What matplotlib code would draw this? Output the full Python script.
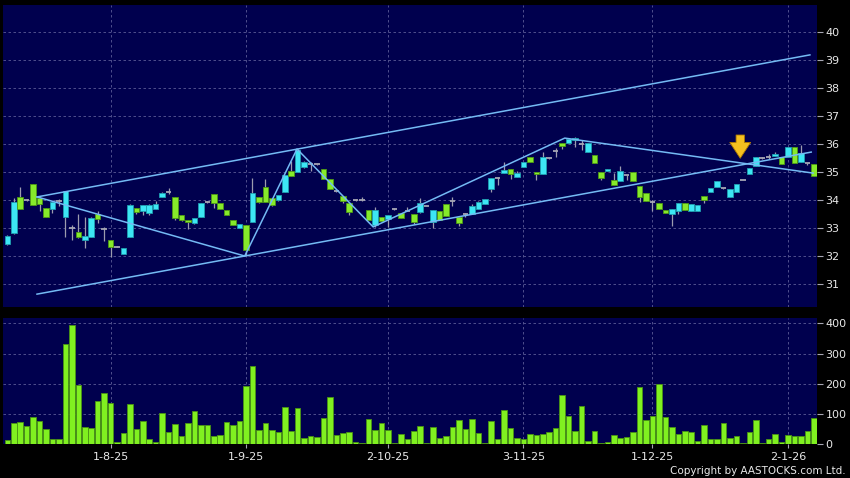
import numpy as np
import matplotlib
matplotlib.use('Agg')
import matplotlib.pyplot as plt

# --- Data (one entry per trading day) ---
open_ = [32.42, 32.81, 34.10, 34.00, 34.56, 34.08, 33.70, 33.68, 33.98, 33.40,
         32.99, 32.85, 32.58, 32.69, 33.49, 32.96, 32.57, 32.33, 32.06, 32.67,
         33.70, 33.61, 33.52, 33.69, 34.10, 34.30, 34.10, 33.45, 33.29, 33.17,
         33.38, 33.93, 34.20, 33.90, 33.65, 33.30, 32.99, 33.10, 33.20, 34.10,
         34.48, 34.08, 33.99, 34.27, 35.04, 35.01, 35.19, 35.27, 35.27, 35.10,
         34.74, 34.33, 34.15, 33.90, 34.00, 34.00, 33.64, 33.11, 33.40, 33.32,
         33.68, 33.52, 33.62, 33.49, 33.58, 33.79, 33.20, 33.62, 33.85, 33.96,
         33.40, 33.50, 33.50, 33.68, 33.85, 34.38, 34.80, 34.95, 35.10, 34.81,
         35.17, 35.52, 35.01, 34.92, 35.49, 35.75, 36.02, 36.02, 36.14, 35.99,
         35.73, 35.61, 35.01, 35.05, 34.71, 34.69, 34.89, 34.99, 34.50, 34.26,
         33.94, 33.90, 33.64, 33.49, 33.61, 33.88, 33.61, 33.61, 34.14, 34.30,
         34.48, 34.42, 34.12, 34.30, 34.71, 34.92, 35.23, 35.49, 35.55, 35.57,
         35.55, 35.52, 35.90, 35.37, 35.31, 35.27]
close = [32.71, 33.92, 33.68, 34.00, 33.82, 33.85, 33.40, 33.92, 33.98, 34.33,
         32.99, 32.69, 32.73, 33.35, 33.31, 32.96, 32.33, 32.33, 32.30, 33.82,
         33.56, 33.81, 33.82, 33.85, 34.26, 34.30, 33.35, 33.29, 33.22, 33.35,
         33.88, 33.93, 33.88, 33.67, 33.45, 33.10, 33.13, 32.21, 34.24, 33.93,
         33.94, 33.82, 34.18, 34.89, 34.87, 35.79, 35.37, 35.27, 35.27, 34.74,
         34.39, 34.33, 33.98, 33.58, 34.00, 34.00, 33.29, 33.64, 33.25, 33.46,
         33.68, 33.35, 33.62, 33.23, 33.90, 33.79, 33.64, 33.29, 33.44, 33.96,
         33.17, 33.50, 33.80, 33.94, 34.02, 34.77, 34.80, 35.07, 34.92, 34.98,
         35.35, 35.37, 34.92, 35.52, 35.49, 35.75, 35.94, 36.18, 36.23, 35.99,
         36.02, 35.31, 34.80, 35.10, 34.54, 35.04, 34.89, 34.69, 34.12, 33.98,
         33.94, 33.67, 33.52, 33.67, 33.90, 33.64, 33.86, 33.82, 34.00, 34.44,
         34.68, 34.42, 34.38, 34.56, 34.71, 35.15, 35.52, 35.49, 35.55, 35.63,
         35.29, 35.90, 35.31, 35.69, 35.31, 34.86]
high = [32.75, 34.06, 34.48, 34.05, 34.56, 34.10, 33.70, 33.95, 34.05, 34.33,
        33.10, 33.49, 33.40, 33.40, 33.61, 33.05, 32.57, 32.35, 32.30, 33.85,
        33.72, 33.82, 33.85, 33.98, 34.28, 34.42, 34.10, 33.45, 33.29, 33.35,
        33.88, 33.98, 34.20, 33.90, 33.65, 33.30, 33.13, 33.10, 34.77, 34.12,
        34.75, 34.08, 34.18, 34.90, 35.40, 35.82, 35.40, 35.35, 35.28, 35.10,
        34.74, 34.36, 34.15, 33.90, 34.02, 34.10, 33.64, 33.75, 33.40, 33.46,
        33.70, 33.55, 33.75, 33.49, 34.08, 33.80, 33.64, 33.62, 33.85, 34.10,
        33.40, 33.55, 33.85, 33.98, 34.05, 34.77, 34.82, 35.35, 35.12, 35.05,
        35.37, 35.55, 35.01, 35.70, 35.50, 35.85, 36.02, 36.18, 36.25, 36.15,
        36.02, 35.61, 35.01, 35.10, 34.98, 35.20, 34.90, 34.99, 34.50, 34.26,
        34.00, 33.90, 33.64, 33.67, 33.90, 33.88, 33.86, 33.82, 34.14, 34.44,
        34.68, 34.44, 34.40, 34.58, 34.72, 35.15, 35.55, 35.52, 35.65, 35.72,
        35.55, 35.90, 35.90, 35.98, 35.33, 35.27]
low = [32.40, 32.80, 33.68, 33.98, 33.82, 33.61, 33.40, 33.55, 33.80, 32.69,
       32.57, 32.65, 32.30, 32.69, 33.17, 32.55, 31.98, 32.31, 32.06, 32.67,
       33.50, 33.46, 33.45, 33.69, 34.10, 34.20, 33.30, 33.25, 32.95, 33.15,
       33.38, 33.88, 33.70, 33.67, 33.45, 33.10, 32.99, 32.04, 33.20, 33.90,
       33.94, 33.80, 33.95, 34.27, 34.87, 35.01, 35.15, 35.05, 35.26, 34.74,
       34.39, 34.30, 33.90, 33.45, 33.98, 33.98, 33.29, 33.05, 33.25, 33.05,
       33.66, 33.35, 33.60, 33.15, 33.55, 33.78, 33.00, 33.29, 33.44, 33.80,
       33.08, 33.40, 33.50, 33.68, 33.85, 34.30, 34.55, 34.95, 34.75, 34.81,
       35.17, 35.37, 34.72, 34.92, 35.48, 35.55, 35.82, 36.02, 35.90, 35.80,
       35.73, 35.31, 34.72, 35.05, 34.54, 34.69, 34.73, 34.69, 33.94, 33.98,
       33.62, 33.67, 33.52, 33.08, 33.50, 33.64, 33.61, 33.61, 33.90, 34.30,
       34.48, 34.40, 34.12, 34.30, 34.70, 34.92, 35.23, 35.45, 35.45, 35.57,
       35.29, 35.52, 35.31, 35.37, 35.25, 34.86]
volume = [14, 70, 73, 60, 91, 78, 51, 16, 16, 333,
          394, 196, 58, 52, 142, 168, 136, 7, 38, 132,
          50, 77, 18, 8, 104, 41, 67, 26, 71, 109,
          63, 62, 27, 31, 74, 64, 78, 191, 260, 47,
          69, 48, 39, 122, 44, 121, 21, 28, 22, 86,
          156, 30, 36, 40, 8, 2, 83, 48, 71, 48,
          4, 34, 18, 42, 60, 3, 57, 21, 26, 56,
          80, 51, 82, 38, 3, 78, 18, 113, 54, 21,
          17, 32, 31, 34, 41, 54, 163, 94, 44, 127,
          11, 44, 4, 7, 30, 19, 22, 41, 190, 81,
          92, 199, 88, 56, 34, 44, 41, 11, 62, 16,
          16, 70, 20, 28, 3, 39, 79, 3, 16, 34,
          8, 30, 26, 28, 44, 86]

date_idx = [16, 37, 59, 80, 100, 121]
date_labels = ['1-8-25', '1-9-25', '2-10-25', '3-11-25', '1-12-25', '2-1-26']
price_ticks = [31, 32, 33, 34, 35, 36, 37, 38, 39, 40]
volume_ticks = [0, 100, 200, 300, 400]

# trend lines drawn on the chart (x = trading-day index, y = price)
zigzag_x = [4.6, 36.8, 44.9, 56.7, 86.4, 124.9]
zigzag_y = [34.11, 32.00, 35.82, 33.04, 36.21, 34.96]
upper_x = [4.6, 124.4]
upper_y = [34.11, 39.18]
lower_x = [4.6, 124.6]
lower_y = [30.64, 35.71]
signal_idx = 113.6
signal_top, signal_tip = 36.32, 35.49

# --- Styling ---
BG = '#000000'
PANEL = '#00004E'
GRID = '#5C5C96'
UP = '#3DE6F4'
UP_EDGE = '#1F9FB0'
DOWN = '#86EA2A'
DOWN_EDGE = '#4E9A14'
DOJI = '#A6A6B4'
WICK = '#9C9CAE'
LINE = '#74BAF4'
TEXT = '#E8E8E8'

o = np.array(open_)
c = np.array(close)
h = np.array(high)
l = np.array(low)
v = np.array(volume)
x = np.arange(len(o))
up = c > o
dn = c < o
flat = c == o
bw = 0.86

fig = plt.figure(figsize=(8.5, 4.78), dpi=100, facecolor=BG)
ax = fig.add_axes([0.0039, 0.3577, 0.9573, 0.6318])
axv = fig.add_axes([0.0039, 0.0711, 0.9573, 0.2636])

for a in (ax, axv):
    a.set_facecolor(PANEL)
    for s in a.spines.values():
        s.set_visible(False)
    a.set_xlim(-0.62, 125.5)
    a.yaxis.tick_right()
    a.tick_params(axis='y', colors=DOJI, labelcolor=TEXT, length=4, width=0.8,
                  labelsize=8, pad=2)
    a.set_xticks(date_idx)
    a.grid(True, color=GRID, linestyle=(0, (3, 3)), linewidth=0.6)
    a.set_axisbelow(True)

# --- Price panel ---
ax.set_ylim(30.18, 40.96)
ax.set_yticks(price_ticks)
ax.tick_params(axis='x', length=0, labelbottom=False)

ax.vlines(x, l, h, color=WICK, linewidth=0.9, zorder=2)
ax.bar(x[up], (c - o)[up], bottom=o[up], width=bw, color=UP,
       edgecolor=UP_EDGE, linewidth=0.6, zorder=3)
ax.bar(x[dn], (o - c)[dn], bottom=c[dn], width=bw, color=DOWN,
       edgecolor=DOWN_EDGE, linewidth=0.6, zorder=3)
ax.hlines(o[flat], x[flat] - bw / 2, x[flat] + bw / 2, color=DOJI,
          linewidth=1.3, zorder=3)

ax.plot(zigzag_x, zigzag_y, color=LINE, linewidth=1.1, zorder=4)
ax.plot(upper_x, upper_y, color=LINE, linewidth=1.1, zorder=4)
ax.plot(lower_x, lower_y, color=LINE, linewidth=1.1, zorder=4)

# yellow signal arrow
ax.annotate('', xy=(signal_idx, signal_tip), xytext=(signal_idx, signal_top),
            arrowprops=dict(arrowstyle='simple,head_width=1.25,head_length=0.95,tail_width=0.5',
                            fc='#F4C020', ec='#B07A00', lw=0.6, mutation_scale=12,
                            shrinkA=0, shrinkB=0),
            zorder=5)

# --- Volume panel ---
axv.set_ylim(0, 418)
axv.set_yticks(volume_ticks)
axv.bar(x, v, width=bw, color='#80F020', edgecolor='#4A9414', linewidth=0.6, zorder=3)
axv.set_xticklabels(date_labels)
axv.tick_params(axis='x', colors=DOJI, labelcolor=TEXT, length=3, width=0.8,
                labelsize=8, pad=3)

fig.text(0.995, 0.004, 'Copyright by AASTOCKS.com Ltd.', ha='right', va='bottom',
         fontsize=7.5, color=TEXT)

fig.savefig('out.png', dpi=100, facecolor=BG)
